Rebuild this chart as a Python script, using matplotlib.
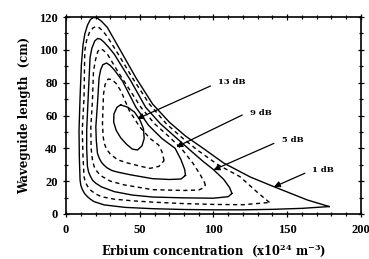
import matplotlib
matplotlib.use('Agg')
import matplotlib.pyplot as plt
from matplotlib.ticker import MultipleLocator

plt.rcParams['font.family'] = ['DejaVu Serif']
plt.rcParams['font.weight'] = 'bold'
plt.rcParams['mathtext.fontset'] = 'dejavuserif'
plt.rcParams['mathtext.default'] = 'bf'

# gain contours: (erbium conc., waveguide length)
c1_x = [178.5, 163.7, 141, 125, 107, 93, 81, 70, 58.7, 47.4, 37, 28, 24, 21, 18.6,
        16.5, 14.5, 12.7, 11.5, 10.4, 9.5, 8.8, 9.0, 9.5, 10, 11, 12.5, 14.5, 16.5,
        19, 25.9, 40, 58.7, 80, 100, 120, 140, 160, 178.5]
c1_y = [4.5, 8.5, 16.6, 22.5, 31, 40, 47.5, 56, 67, 83, 99.5, 113.7, 117.5, 119.5, 119.8,
        118.5, 115, 109.6, 103, 91, 71, 51, 35, 20.7, 17.5, 15, 12.5, 10.5, 9,
        7.5, 5.5, 4.0, 3.2, 2.7, 2.5, 2.5, 2.8, 3.4, 4.5]

c3_x = [138, 130, 118, 103, 89, 78, 68, 56.5, 45, 35, 28, 25, 22.5, 20.5, 18.5, 16,
        14, 12.7, 12.2, 11, 11.5, 12.2, 13, 14.5, 16, 17.9, 20.5, 24, 32.7, 45, 58.7,
        80, 100, 120, 138]
c3_y = [7.0, 13, 22.7, 30, 39, 47, 55, 67, 83, 98, 108, 111.5, 113.5, 114.2, 113.6, 111,
        106, 99.5, 71, 51, 35, 22.7, 19.5, 17, 15, 13.6, 12, 10.5, 9.0, 8.0, 7.2,
        6.3, 5.8, 5.6, 7.0]

c5_x = [112.5, 111, 107, 100, 93, 84, 74, 64, 54, 44, 32.7, 29, 26, 23.5, 21.5,
        19.5, 17.5, 16.3, 15, 14, 14, 14.5, 15.3, 16.5, 18, 20.2, 24, 32.7, 45, 58.7,
        80, 100, 110, 112.5]
c5_y = [12.5, 16, 21, 27, 32, 39, 47, 55, 65, 81, 97.4, 101.5, 104.5, 106.5, 107,
        105.5, 101, 95.4, 71, 51, 40, 29, 25.5, 23, 20.5, 18.7, 16.5, 13.6, 11.5, 10.3,
        9.8, 9.6, 10.5, 12.5]

c7_x = [94.5, 94, 91, 86, 79, 70, 60, 50.8, 35, 31, 28, 25, 23, 21.5, 20, 18.6,
        17.9, 16.8, 17, 17.9, 19, 20.5, 22.5, 24.7, 30, 39.5, 58.7, 80, 90, 93.5, 94.5]
c7_y = [17.5, 19, 24, 31, 39, 47, 55, 65, 87, 93, 97.5, 100, 100.6, 99, 94, 87,
        69, 53, 40, 33, 29, 26.5, 24.3, 22.7, 20, 17.7, 14.8, 14.3, 14.6, 16, 17.5]

c9_x = [81, 80.5, 78, 74, 65, 56, 47.4, 38.3, 33, 30, 27.5, 25, 23.5, 22.4, 21.3,
        20.2, 20.5, 21.3, 22.5, 24, 26, 28, 31, 35, 44, 58.7, 70, 78, 81]
c9_y = [23.5, 27, 33, 40, 46, 54, 65, 81, 87.5, 90.5, 92, 91, 88, 83, 67,
        53, 45, 37, 34, 31.5, 29.5, 28, 26.5, 25.5, 23.8, 21.5, 21, 21.3, 23.5]

c11_x = [66.5, 65, 62.8, 57, 50, 42.9, 37.2, 34, 31, 28.5, 26.5, 25.4, 24.7, 25.2,
         25.9, 27.5, 30, 35, 42, 50.8, 57, 63, 66.5]
c11_y = [32.5, 38, 42, 46, 53, 63, 75, 79.5, 82, 82.2, 79, 73, 55, 47,
         43, 39.5, 36.5, 33, 31, 29, 27.8, 29, 32.5]

c13_x = [37, 42, 46.5, 50, 52.5, 53, 51.5, 48.5, 45, 41, 37, 34, 32.3, 32.5, 34.5, 37]
c13_y = [66.5, 65, 62, 57.5, 52, 46, 41.5, 39, 39.5, 42.5, 46.5, 51, 56, 61, 65, 66.5]

contours = [(c1_x, c1_y, '-'), (c3_x, c3_y, '--'), (c5_x, c5_y, '-'),
            (c7_x, c7_y, '--'), (c9_x, c9_y, '-'), (c11_x, c11_y, '--'),
            (c13_x, c13_y, '-')]

# labels: text, text position, arrow tip
labels = ['13 dB', '9 dB', '5 dB', '1 dB']
label_xy = [(103, 80.5), (124.5, 61.5), (146.5, 45), (167, 27)]
arrow_start = [(98, 78), (119.5, 60.3), (141, 43), (162, 24.8)]
arrow_tip = [(48.3, 58), (74.8, 40.8), (100, 26.8), (141, 16.5)]

fig = plt.figure(figsize=(3.69, 2.59), dpi=100)
ax = fig.add_axes([0.179, 0.174, 0.799, 0.760])

for xs, ys, ls in contours:
    if ls == '--':
        ax.plot(xs, ys, color='black', lw=1.0, linestyle=(0, (3, 2.5)))
    else:
        ax.plot(xs, ys, color='black', lw=1.0)

for txt, pos, st, tip in zip(labels, label_xy, arrow_start, arrow_tip):
    ax.text(pos[0], pos[1], txt, fontsize=6, fontweight='bold', va='center', ha='left')
    ax.annotate('', xy=tip, xytext=st,
                arrowprops=dict(arrowstyle='-|>', color='black', lw=0.9,
                                mutation_scale=9, shrinkA=0, shrinkB=0))

ax.set_xlim(0, 200)
ax.set_ylim(0, 120)
ax.xaxis.set_major_locator(MultipleLocator(50))
ax.xaxis.set_minor_locator(MultipleLocator(10))
ax.yaxis.set_major_locator(MultipleLocator(20))
ax.yaxis.set_minor_locator(MultipleLocator(10))
ax.tick_params(which='both', direction='inout', top=True, right=True, labelsize=9, width=0.9)
ax.tick_params(which='major', length=5)
ax.tick_params(which='minor', length=3)
ax.tick_params(axis='x', pad=5)
for lab in ax.get_xticklabels() + ax.get_yticklabels():
    lab.set_fontfamily('Liberation Serif')
    lab.set_fontweight('bold')
for s in ax.spines.values():
    s.set_linewidth(1.2)

ax.set_xlabel('Erbium concentration  (x10$^{24}$ m$^{-3}$)', fontsize=8.3, fontweight='bold', labelpad=4)
ax.set_ylabel('Waveguide length  (cm)', fontsize=8.5, fontweight='bold', labelpad=6)

fig.savefig('out.png', dpi=100)
